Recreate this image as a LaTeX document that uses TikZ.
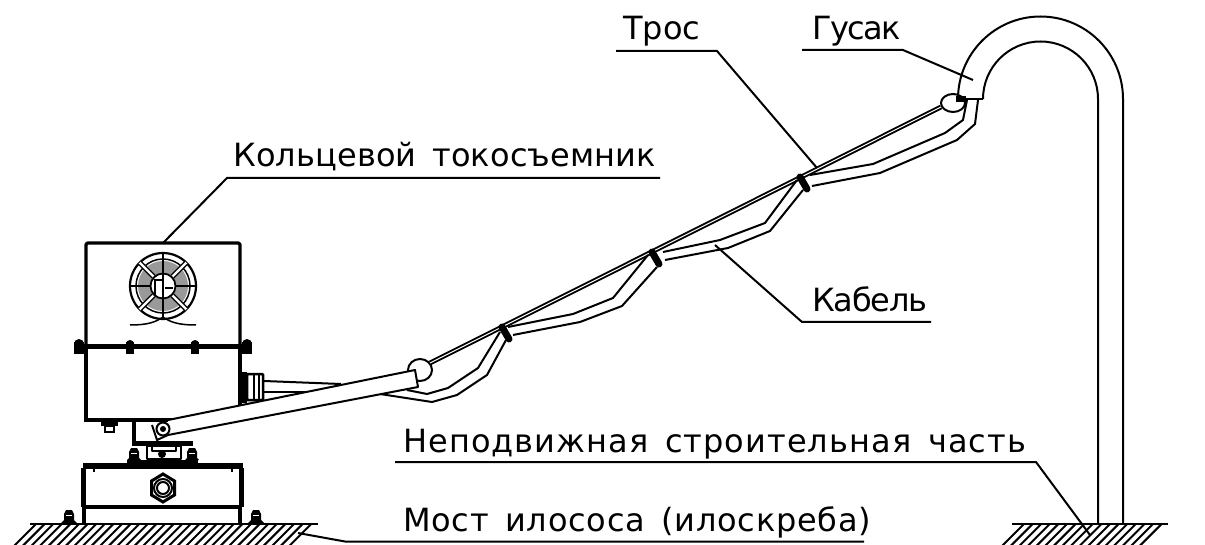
\documentclass[tikz,border=0pt]{standalone}
\usepackage{fontspec}
\setmainfont{DejaVu Sans}[WordSpace=1.5]
\usetikzlibrary{calc}

\newcommand{\lblspaced}[2]{\addfontfeature{LetterSpace=#1}#2}

\tikzset{
	thickline/.style={line width=3.2pt,line join=round},
	midline/.style={line width=2pt,line join=round},
	leader/.style={line width=2pt},
	hatchline/.style={line width=2pt},
	caption/.style={anchor=base west,inner sep=0pt,font=\fontsize{32}{32}\selectfont},
}

\begin{document}
\begin{tikzpicture}[x=1pt,y=-1pt]
	\useasboundingbox (0,0) rectangle (1205,545);

	% floor
	\draw[line width=2.8pt] (30,524)--(318,524);
	\draw[line width=2.8pt] (1012,524)--(1168,524);
	\begin{scope}
		\clip (0,524) rectangle (1205,545);
		\foreach \hx in {36,44.6,...,318}
			\draw[hatchline] (\hx,524)--(\hx-22,546);
		\foreach \hx in {1024,1032.6,...,1168}
			\draw[hatchline] (\hx,524)--(\hx-22,546);
	\end{scope}

	% upper box
	\draw[thickline,rounded corners=1.5pt] (86,347)--(86,243)--(240,243)--(240,347);
	\draw[line width=4pt] (86,347)--(86,420)--(240,420)--(240,347);
	\draw[line width=5pt] (76,347)--(250,347);
	\foreach \bx/\bw in {79/5,130/4,195/4,247/5}{
		\fill (\bx-\bw,342) rectangle (\bx+\bw,354);
		\fill (\bx,344) circle (\bw);
	}

	% fan
	\draw[line width=2.2pt] (163,286) circle (33);
	\draw[line width=1.5pt] (163,286) circle (27);
	\fill[gray!80] (163,286) circle (25);
	\foreach \fa in {45,135,225,315}{
		\draw[white,line width=4pt] (163,286)--+(\fa:33);
		\draw[line width=1.2pt] ($(163,286)+(\fa:13)+(\fa+90:2)$)--+(\fa:20);
		\draw[line width=1.2pt] ($(163,286)+(\fa:13)+(\fa-90:2)$)--+(\fa:20);
	}
	\fill[white] (163,286) circle (13);
	\draw[line width=1.8pt] (163,286) circle (12.5);
	\draw[line width=1.6pt] (130,286)--(150,286) (176,286)--(196,286);
	\draw[line width=1.6pt] (163,253)--(163,319);
	\draw[line width=2pt] (155,296)--(155,280)--(163,280)--(163,297);
	\draw[line width=2pt] (165,288)--(173,288);
	\draw[line width=1.5pt] (130,325) .. controls (148,325) and (156,322) .. (163,317);
	\draw[line width=1.5pt] (196,325) .. controls (178,325) and (170,322) .. (163,317);

	% nut under box
	\fill (101,421) rectangle (118,426);
	\draw[line width=1.5pt] (105,426) rectangle (114,432);

	% gland
	\fill (241,372) rectangle (247,403);
	\draw[line width=2.5pt,rounded corners=1pt] (247,374) rectangle (263,400);
	\draw[line width=1.5pt] (254,374)--(254,400) (259,374)--(259,400);

	% cable end at gland
	\draw[midline] (264,381)--(341,384);
	\draw[midline] (264,392)--(307,392);

	% eye and arm
	\draw[midline] (420,370) ellipse (12 and 11);
	\draw[midline,fill=white] (168,420)--(415,370)--(418,387)--(168,435);

	% pivot
	\draw[thickline] (134,420)--(134,443);
	\draw[midline] (152,425)--(157,440)--(168,435);
	\draw[line width=2pt,fill=white] (163,429) circle (6.5);
	\fill (163,429) circle (3);
	\fill (132,441) rectangle (193,446);
	\draw[midline] (147,446) rectangle (181,459);
	\draw[midline] (152,446)--(152,451)--(176,451)--(176,446);
	\fill (162,454) circle (4);
	\draw[thickline] (127,461.5)--(198,461.5);
	\foreach \bx in {134,192}{
		\fill (\bx-3,448)--(\bx+3,448)--(\bx+5,452)--(\bx+5,458)--(\bx+7,460)--(\bx-7,460)--(\bx-5,458)--(\bx-5,452)--cycle;
		\fill[white] (\bx-3,452.5) rectangle (\bx+3,453.8);
	}

	% base
	\fill (83,463) rectangle (243,469);
	\draw[line width=4.5pt] (83.5,468)--(83.5,507) (241.5,468)--(241.5,507);
	\draw[thickline] (84,507)--(84,524) (240,507)--(240,524);
	\draw[thickline] (84,507)--(241,507);
	\fill (93,469) rectangle (95,472);
	\fill (231,469) rectangle (233,472);
	\draw[line width=3pt] (163,474)--(174.5,481)--(174.5,495)--(163,502)--(151.5,495)--(151.5,481)--cycle;
	\draw[line width=2pt] (163,488) circle (9);
	\draw[line width=2pt] (163,488) circle (6);
	\foreach \bx in {69,256}{
		\fill (\bx-3,510)--(\bx+3,510)--(\bx+5,514)--(\bx+5,520)--(\bx+9,524)--(\bx-9,524)--(\bx-5,520)--(\bx-5,514)--cycle;
		\fill[white] (\bx-3,514.5) rectangle (\bx+3,515.8);
	}

	% eye at the neck
	\draw[midline] (953,103) ellipse (12 and 9);

	% rope
	\coordinate (ropeA) at (430,363);
	\coordinate (ropeB) at (941,107);
	\draw[line width=1.9pt,double=white,double distance=1pt] (ropeA)--(ropeB);

	% cable
	\draw[midline] (407,390)--(427,394)--(448,388)--(478,368)--(500,332);
	\draw[midline] (380,394)--(432,402)--(457,395)--(487,375)--(506,340);
	\draw[midline] (508,327)--(573,314)--(613,298)--(648,255);
	\draw[midline] (513,335)--(580,322)--(622,306)--(657,267);
	\draw[midline] (663,252)--(720,240)--(765,223)--(797,180);
	\draw[midline] (665,260)--(728,248)--(770,231)--(803,190);
	\draw[midline] (810,175)--(873,164)--(945,133)--(963,120)--(967,100);
	\draw[midline] (812,186)--(880,173)--(957,140)--(975,124)--(978,100);

	% clamps
	\foreach \cx/\cy in {502/327,652/252,800/177}
		\draw[line width=7pt,line cap=round] (\cx,\cy)--(\cx+7,\cy+12);

	% goose neck
	\draw[midline] (958,99) arc[start angle=180,end angle=0,radius=82.5pt]--(1123,524);
	\draw[midline] (983,99) arc[start angle=180,end angle=0,radius=57.5pt]--(1098,524);
	\draw[midline] (957,99)--(983,99);
	\draw[line width=1.5pt] (957,97) rectangle (965,101);

	% labels
	\node[caption] (lblRing) at (233,167) {\lblspaced{0.5}{Кольцевой токосъемник}};
	\node[caption] (lblRope) at (623,40) {\lblspaced{0}{Трос}};
	\node[caption] (lblNeck) at (812,40) {\lblspaced{-5}{Гусак}};
	\node[caption] (lblCable) at (812,312) {\lblspaced{-3.8}{Кабель}};
	\node[caption] (lblFixed) at (403,452) {\lblspaced{3.3}{Неподвижная строительная часть}};
	\node[caption] (lblBridge) at (403,531) {\lblspaced{2.4}{Мост илососа (илоскреба)}};

	% leaders
	\coordinate (ringA) at (163,243);
	\coordinate (ringB) at (227,178);
	\coordinate (ringC) at (660,178);
	\draw[leader] (ringA)--(ringB)--(ringC);
	\coordinate (ropeC) at (817,168);
	\coordinate (ropeD) at (717,51);
	\coordinate (ropeE) at (616,51);
	\draw[leader] (ropeC)--(ropeD)--(ropeE);
	\coordinate (neckA) at (973,80);
	\coordinate (neckB) at (903,50);
	\coordinate (neckC) at (802,50);
	\draw[leader] (neckA)--(neckB)--(neckC);
	\coordinate (cableA) at (715,245);
	\coordinate (cableB) at (802,322);
	\coordinate (cableC) at (931,322);
	\draw[leader] (cableA)--(cableB)--(cableC);
	\coordinate (fixedA) at (1090,535);
	\coordinate (fixedB) at (1036,462);
	\coordinate (fixedC) at (395,462);
	\draw[leader] (fixedA)--(fixedB)--(fixedC);
	\coordinate (bridgeA) at (298,533);
	\coordinate (bridgeB) at (345,541.5);
	\coordinate (bridgeC) at (864,541.5);
	\draw[leader] (bridgeA)--(bridgeB)--(bridgeC);
\end{tikzpicture}
\end{document}
